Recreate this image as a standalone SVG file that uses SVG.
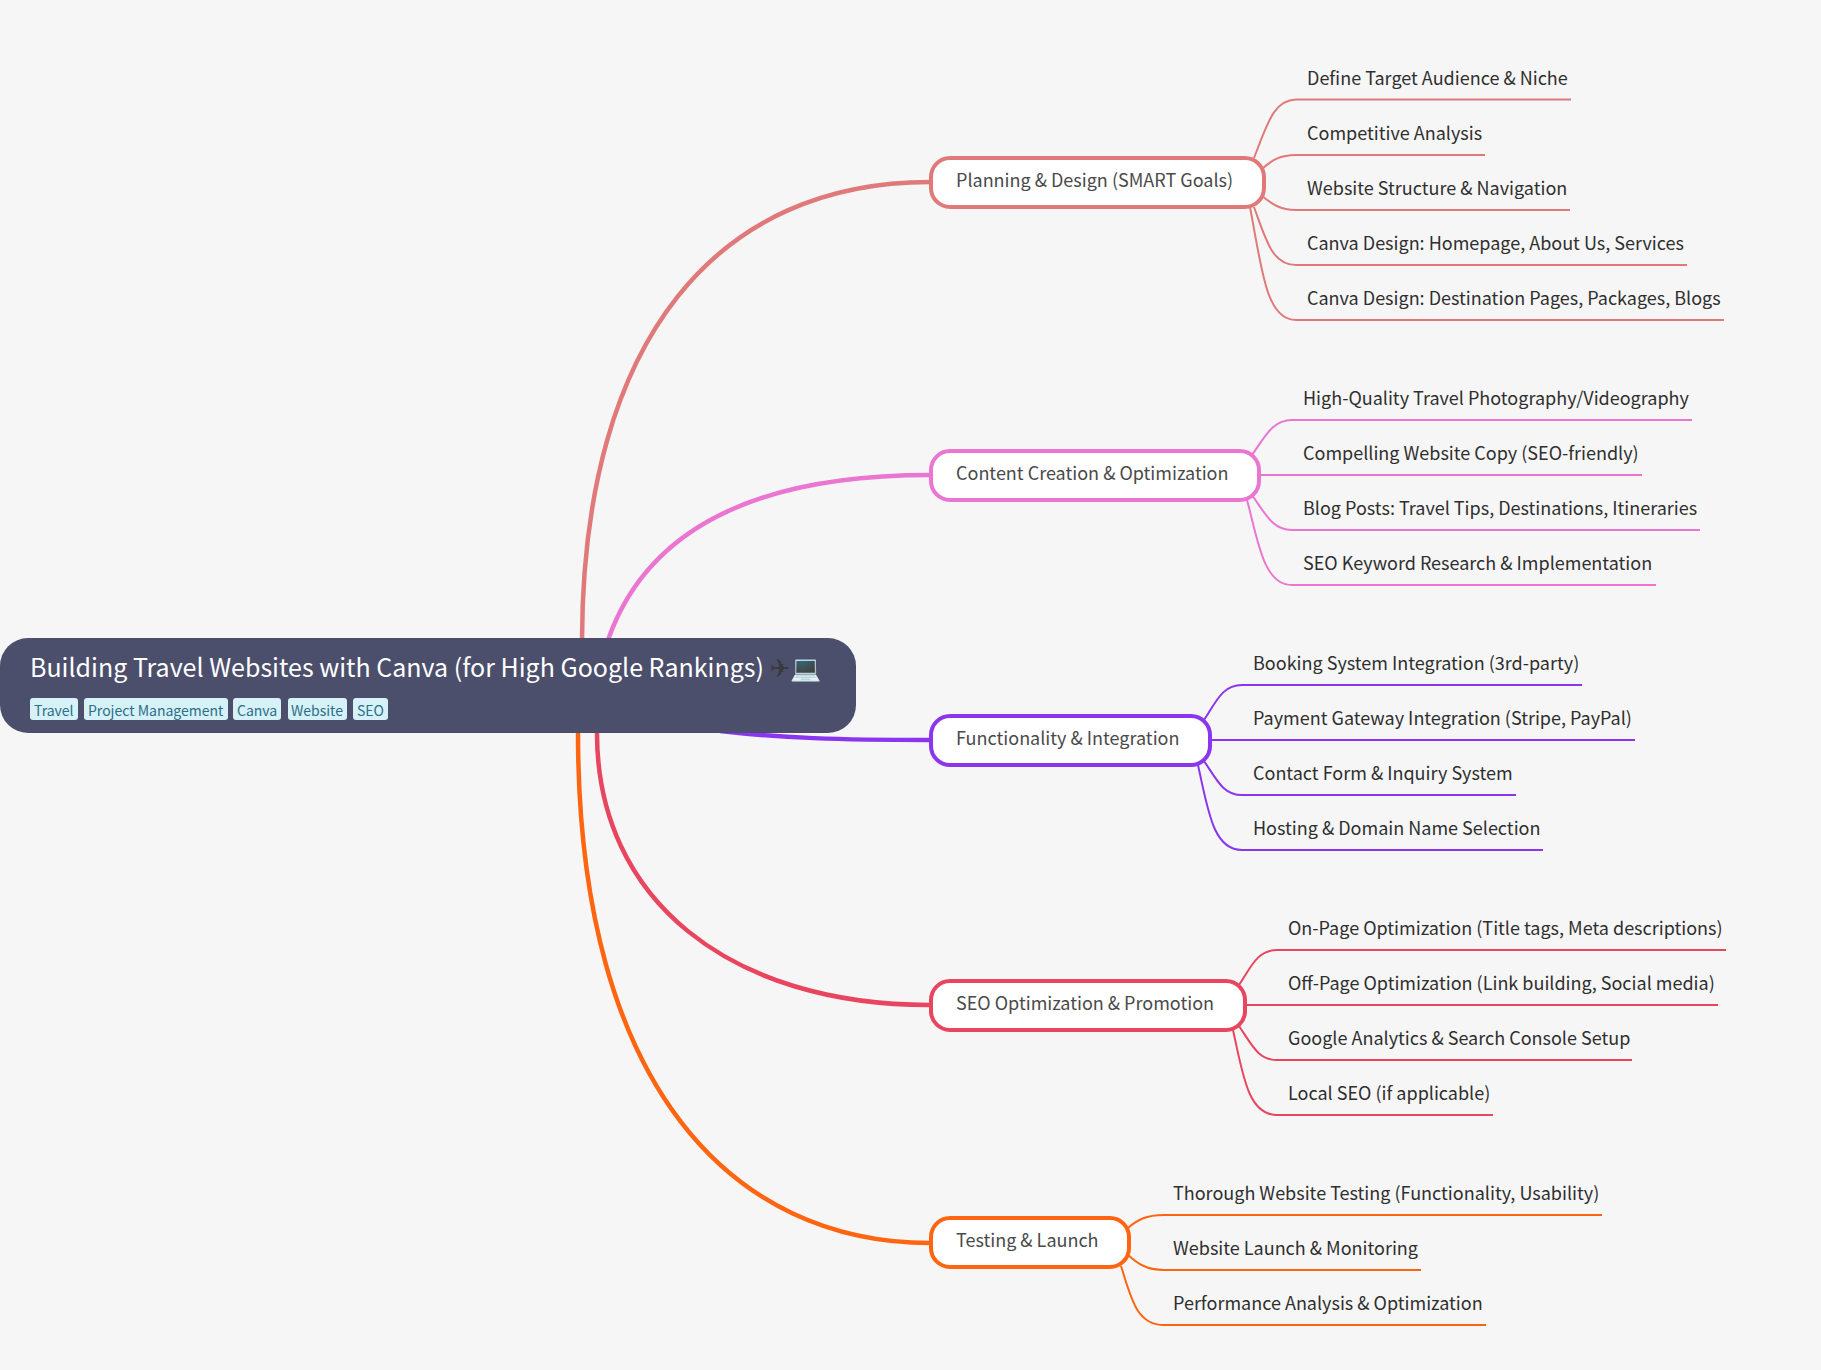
<svg xmlns="http://www.w3.org/2000/svg" width="1821" height="1370" viewBox="0 0 1821 1370">
<style>
text{font-family:"Noto Sans CJK JP","Noto Sans",sans-serif}
.b{fill:none;stroke-width:4.5}
.l{fill:none;stroke-width:2}
.n{fill:#fff;stroke-width:4}
.t{font-size:18px;fill:#4a4a4a}
.s{font-size:18px;fill:#2f2f2f}
.g{fill:#d6f1f8}
.gt{font-size:14px;fill:#2a6f87}
.c1{stroke:#e07a7a}.c2{stroke:#ea76d2}.c3{stroke:#8a36ee}.c4{stroke:#e8455f}.c5{stroke:#ff6510}
</style>
<rect width="1821" height="1370" fill="#f6f6f6"/>
<g id="connectors">
<path class="b c1" d="M930 182C720 182 583 335 582 640"/>
<path class="b c2" d="M930 475C770 475 650 520 608 640"/>
<path class="b c3" d="M930 740C840 740 780 738 720 731"/>
<path class="b c4" d="M930 1005C730 1005 597 900 597 733"/>
<path class="b c5" d="M930 1243C735 1243 578 1090 578 733"/>
<path class="l c1" d="M1254 158C1268 122 1274 100 1296 99.500H1571"/>
<path class="l c1" d="M1262 169C1272 160 1280 155 1296 155H1485"/>
<path class="l c1" d="M1262 196C1272 204 1280 210 1296 210H1570"/>
<path class="l c1" d="M1254 207C1266 240 1272 265 1296 265H1687"/>
<path class="l c1" d="M1250 207C1262 270 1266 320 1296 320H1724"/>
<path class="l c2" d="M1252 455C1266 435 1273 420 1292 420H1692"/>
<path class="l c2" d="M1260 475H1642"/>
<path class="l c2" d="M1252 495C1266 515 1273 530 1292 530H1700"/>
<path class="l c2" d="M1247 500C1258 540 1263 585 1292 585H1656"/>
<path class="l c3" d="M1204 720C1217 700 1223 685 1242 685H1582"/>
<path class="l c3" d="M1211 740H1635"/>
<path class="l c3" d="M1204 761C1217 780 1223 795 1242 795H1516"/>
<path class="l c3" d="M1198 765C1208 810 1213 850 1242 850H1543"/>
<path class="l c4" d="M1239 985C1252 965 1258 950 1277 950H1726"/>
<path class="l c4" d="M1246 1005H1718"/>
<path class="l c4" d="M1239 1026C1252 1045 1258 1060 1277 1060H1632"/>
<path class="l c4" d="M1233 1030C1243 1075 1248 1115 1277 1115H1493"/>
<path class="l c5" d="M1128 1228C1137 1220 1146 1215 1164 1215H1602"/>
<path class="l c5" d="M1128 1255C1137 1263 1146 1270 1164 1270H1421"/>
<path class="l c5" d="M1121 1266C1131 1297 1136 1325 1164 1325H1486"/>
</g>
<g id="root">
<rect x="0" y="638" width="856" height="95" rx="28" fill="#4c4f6b"/>
<text x="30" y="677" font-size="25" fill="#fff">Building Travel Websites with Canva (for High Google Rankings) <tspan fill="#3a3a3a" font-family="DejaVu Sans">✈</tspan>💻</text>
<rect class="g" x="30" y="698" width="48" height="22" rx="3"/><text class="gt" x="34" y="716">Travel</text>
<rect class="g" x="84" y="698" width="144" height="22" rx="3"/><text class="gt" x="88" y="716">Project Management</text>
<rect class="g" x="233" y="698" width="48" height="22" rx="3"/><text class="gt" x="237" y="716">Canva</text>
<rect class="g" x="288" y="698" width="59" height="22" rx="3"/><text class="gt" x="291" y="716">Website</text>
<rect class="g" x="353" y="698" width="35" height="22" rx="3"/><text class="gt" x="357" y="716">SEO</text>
</g>
<g id="n1"><rect class="n c1" x="931" y="158" width="333" height="49" rx="19"/><text class="t" x="956" y="187">Planning &amp; Design (SMART Goals)</text></g>
<g id="n2"><rect class="n c2" x="931" y="451" width="328" height="49" rx="19"/><text class="t" x="956" y="480">Content Creation &amp; Optimization</text></g>
<g id="n3"><rect class="n c3" x="931" y="716" width="279" height="49" rx="19"/><text class="t" x="956" y="745">Functionality &amp; Integration</text></g>
<g id="n4"><rect class="n c4" x="931" y="981" width="314" height="49" rx="19"/><text class="t" x="956" y="1010">SEO Optimization &amp; Promotion</text></g>
<g id="n5"><rect class="n c5" x="931" y="1218" width="198" height="49" rx="19"/><text class="t" x="956" y="1247">Testing &amp; Launch</text></g>
<g id="l11"><text class="s" x="1307" y="85">Define Target Audience &amp; Niche</text></g>
<g id="l12"><text class="s" x="1307" y="140">Competitive Analysis</text></g>
<g id="l13"><text class="s" x="1307" y="195">Website Structure &amp; Navigation</text></g>
<g id="l14"><text class="s" x="1307" y="250">Canva Design: Homepage, About Us, Services</text></g>
<g id="l15"><text class="s" x="1307" y="305">Canva Design: Destination Pages, Packages, Blogs</text></g>
<g id="l21"><text class="s" x="1303" y="405">High-Quality Travel Photography/Videography</text></g>
<g id="l22"><text class="s" x="1303" y="460">Compelling Website Copy (SEO-friendly)</text></g>
<g id="l23"><text class="s" x="1303" y="515">Blog Posts: Travel Tips, Destinations, Itineraries</text></g>
<g id="l24"><text class="s" x="1303" y="570">SEO Keyword Research &amp; Implementation</text></g>
<g id="l31"><text class="s" x="1253" y="670">Booking System Integration (3rd-party)</text></g>
<g id="l32"><text class="s" x="1253" y="725">Payment Gateway Integration (Stripe, PayPal)</text></g>
<g id="l33"><text class="s" x="1253" y="780">Contact Form &amp; Inquiry System</text></g>
<g id="l34"><text class="s" x="1253" y="835">Hosting &amp; Domain Name Selection</text></g>
<g id="l41"><text class="s" x="1288" y="935">On-Page Optimization (Title tags, Meta descriptions)</text></g>
<g id="l42"><text class="s" x="1288" y="990">Off-Page Optimization (Link building, Social media)</text></g>
<g id="l43"><text class="s" x="1288" y="1045">Google Analytics &amp; Search Console Setup</text></g>
<g id="l44"><text class="s" x="1288" y="1100">Local SEO (if applicable)</text></g>
<g id="l51"><text class="s" x="1173" y="1200">Thorough Website Testing (Functionality, Usability)</text></g>
<g id="l52"><text class="s" x="1173" y="1255">Website Launch &amp; Monitoring</text></g>
<g id="l53"><text class="s" x="1173" y="1310">Performance Analysis &amp; Optimization</text></g>
</svg>
